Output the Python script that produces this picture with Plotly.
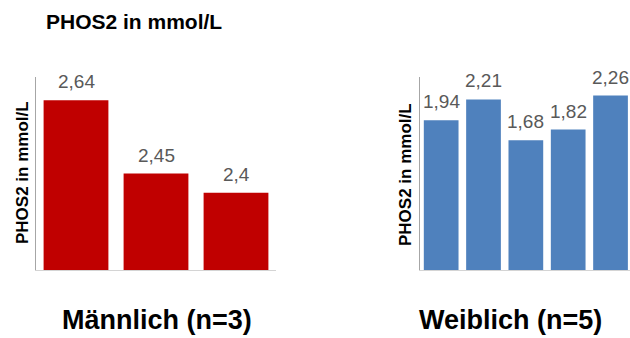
import plotly.graph_objects as go

# PHOS2 values per person, grouped by sex
male_ids = ["M1", "M2", "M3"]
male_values = [2.64, 2.45, 2.4]
female_ids = ["W1", "W2", "W3", "W4", "W5"]
female_values = [1.94, 2.21, 1.68, 1.82, 2.26]

unit_title = "PHOS2 in mmol/L"
male_label = "Männlich (n=3)"
female_label = "Weiblich (n=5)"

W, H = 630, 338


def px(x):
    return x / W


def py(y):
    return 1 - y / H


def fmt(v):
    return f"{v:g}".replace(".", ",")


fig = go.Figure()

fig.add_trace(go.Bar(
    x=male_ids, y=male_values, xaxis="x", yaxis="y",
    marker=dict(color="#C00000", line=dict(width=0)),
    width=0.81, showlegend=False, hoverinfo="skip",
))
fig.add_trace(go.Bar(
    x=female_ids, y=female_values, xaxis="x2", yaxis="y2",
    marker=dict(color="#4F81BD", line=dict(width=0)),
    width=0.82, showlegend=False, hoverinfo="skip",
))

ydom = [py(270), py(77)]
axis_common = dict(showgrid=False, zeroline=False, showticklabels=False,
                   ticks="", fixedrange=True)

fig.update_layout(
    width=W, height=H,
    margin=dict(l=0, r=0, t=0, b=0),
    paper_bgcolor="white", plot_bgcolor="white",
    font=dict(family="Liberation Sans, Arial, sans-serif"),
    xaxis=dict(domain=[px(36), px(276)], range=[-0.5, 2.5],
               showline=True, linecolor="#d4d4d4", linewidth=1,
               anchor="y", **axis_common),
    yaxis=dict(domain=ydom, range=[2.2, 2.7], anchor="x",
               showline=True, linecolor="#a6a6a6", linewidth=1,
               **axis_common),
    xaxis2=dict(domain=[px(420), 1.0], range=[-0.5, 4.46],
                showline=True, linecolor="#d4d4d4", linewidth=1,
                anchor="y2", **axis_common),
    yaxis2=dict(domain=ydom, range=[0, 2.5], anchor="x2",
                showline=True, linecolor="#a6a6a6", linewidth=1,
                **axis_common),
)

annotations = []

# value labels above each bar
for ids, vals, xr, yr in [(male_ids, male_values, "x", "y"),
                          (female_ids, female_values, "x2", "y2")]:
    for c, v in zip(ids, vals):
        annotations.append(dict(
            x=c, y=v, xref=xr, yref=yr, text=fmt(v), showarrow=False,
            xanchor="center", yanchor="bottom", yshift=6,
            font=dict(size=19, color="#595959",
                      family="Liberation Sans, Arial, sans-serif"),
        ))

# chart title
annotations.append(dict(
    x=px(44), y=py(21.5), xref="paper", yref="paper", text=unit_title,
    showarrow=False, xanchor="left", yanchor="middle",
    font=dict(size=21, color="#000000",
              family="Liberation Sans, Arial, sans-serif", weight="bold"),
))

# rotated y-axis titles
for xc, yc in [(23, 173), (405, 175)]:
    annotations.append(dict(
        x=px(xc), y=py(yc), xref="paper", yref="paper", text=unit_title,
        showarrow=False, textangle=-90, xanchor="center", yanchor="middle",
        font=dict(size=17, color="#000000",
                  family="Liberation Sans, Arial, sans-serif", weight="bold"),
    ))

# group labels under each panel
for xc, label in [(157.4, male_label), (510, female_label)]:
    annotations.append(dict(
        x=px(xc), y=py(320), xref="paper", yref="paper", text=label,
        showarrow=False, xanchor="center", yanchor="middle",
        font=dict(size=27, color="#000000",
                  family="Liberation Sans, Arial, sans-serif", weight="bold"),
    ))

fig.update_layout(annotations=annotations)

fig.write_html("out.html")
